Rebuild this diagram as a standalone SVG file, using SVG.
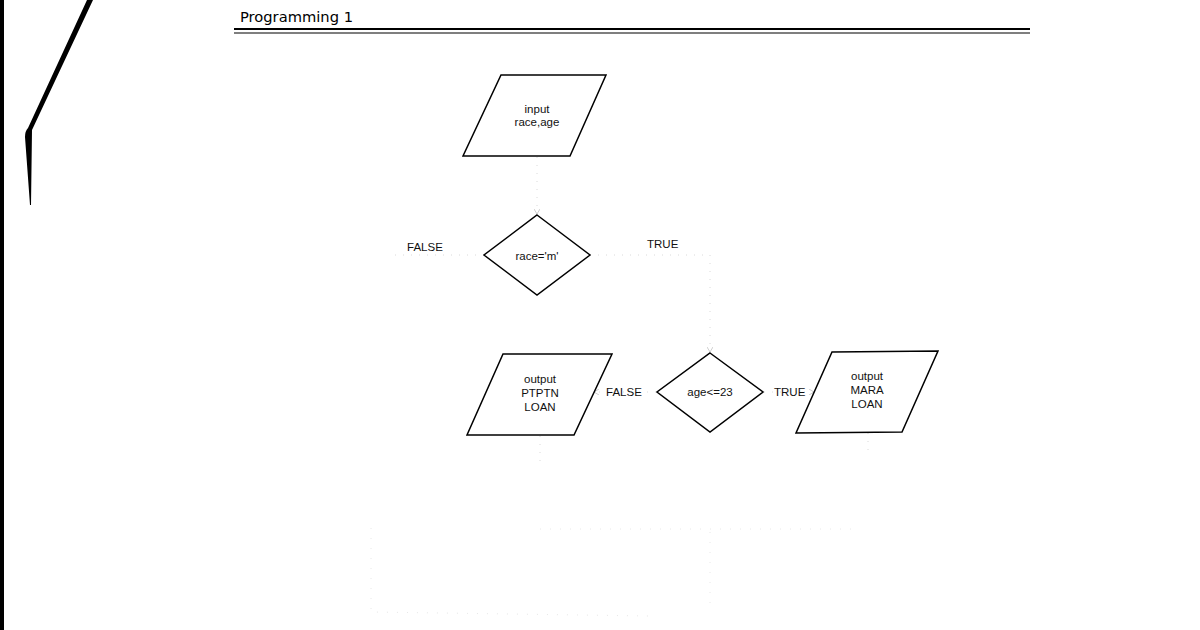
<svg xmlns="http://www.w3.org/2000/svg" width="1200" height="630" viewBox="0 0 1200 630">
<style>
.shape{fill:#fff;stroke:#000;stroke-width:1.5}
.t{font-family:"Liberation Sans",Arial,sans-serif;font-size:11.5px;fill:#111;text-anchor:middle}
.lbl{font-family:"Liberation Sans",Arial,sans-serif;font-size:11.5px;fill:#111}
.conn{fill:none;stroke:#dadada;stroke-width:1;stroke-dasharray:1 7}
.faint{fill:none;stroke:#e8e8e8;stroke-width:1;stroke-dasharray:1 9}
.hdr{font-family:"DejaVu Sans",Verdana,sans-serif;font-size:14px;fill:#000}
</style>
<defs>
<marker id="arr" markerWidth="6" markerHeight="6" refX="5" refY="3" orient="auto" markerUnits="userSpaceOnUse">
<path d="M0,0 L5,3 L0,6" fill="none" stroke="#cfcfcf" stroke-width="1"/>
</marker>
</defs>
<rect width="1200" height="630" fill="#fff"/>
<g id="page-edge">
<rect x="0" y="0" width="4" height="630" fill="#000"/>
<path d="M87,0 L93,0 L32,130 L31,205 L30,205 L25,137 Q25,131 28,128 Z" fill="#000"/>
</g>
<g id="header">
<text class="hdr" x="240" y="22" textLength="113" lengthAdjust="spacingAndGlyphs">Programming 1</text>
<line x1="234" y1="29" x2="1030" y2="29" stroke="#000" stroke-width="2.2"/>
<line x1="234" y1="33" x2="1030" y2="33" stroke="#000" stroke-width="1.2"/>
</g>
<g id="connectors">
<path class="conn" d="M537,157 L537,214" marker-end="url(#arr)"/>
<path class="conn" d="M484,255 L395,255"/>
<path class="conn" d="M590,255 L710,255 L710,352" marker-end="url(#arr)"/>
<path class="conn" d="M656,392 L594,392" marker-end="url(#arr)"/>
<path class="conn" d="M764,392 L814,392" marker-end="url(#arr)"/>
<path class="conn" d="M540,436 L540,462"/>
<path class="conn" d="M868,433 L868,452"/>
<path class="faint" d="M540,529 L860,529"/>
<path class="faint" d="M710,532 L710,604"/>
<path class="faint" d="M371,528 L371,612 L650,616"/>
</g>
<g id="input">
<polygon class="shape" points="501,75 606,75 570,156 463,156"/>
<text class="t" x="537" y="113">input</text>
<text class="t" x="537" y="126">race,age</text>
</g>
<g id="decision-race">
<polygon class="shape" points="537,215 590,255 537,295 484,255"/>
<text class="t" x="537" y="260">race='m'</text>
</g>
<g id="label-false-1"><text class="lbl" x="407" y="251">FALSE</text></g>
<g id="label-true-1"><text class="lbl" x="647" y="248">TRUE</text></g>
<g id="decision-age">
<polygon class="shape" points="710,353 763,392 710,432 657,392"/>
<text class="t" x="710" y="396">age&lt;=23</text>
</g>
<g id="output-ptptn">
<polygon class="shape" points="503,354 612,354 574,435 467,435"/>
<text class="t" x="540" y="383">output</text>
<text class="t" x="540" y="397">PTPTN</text>
<text class="t" x="540" y="411">LOAN</text>
</g>
<g id="label-false-2"><text class="lbl" x="606" y="396">FALSE</text></g>
<g id="label-true-2"><text class="lbl" x="774" y="396">TRUE</text></g>
<g id="output-mara">
<polygon class="shape" points="832,352 938,351 902,432 796,433"/>
<text class="t" x="867" y="380">output</text>
<text class="t" x="867" y="394">MARA</text>
<text class="t" x="867" y="408">LOAN</text>
</g>
</svg>
